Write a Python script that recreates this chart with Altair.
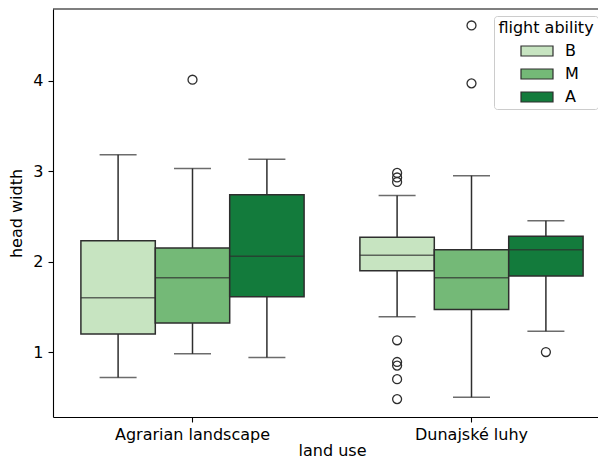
import altair as alt
import pandas as pd

# Box summary values
land = ["Agrarian landscape"] * 3 + ["Dunajské luhy"] * 3
ability = ["B", "M", "A"] * 2
whislo = [0.72, 0.98, 0.94, 1.39, 0.50, 1.23]
q1 = [1.20, 1.32, 1.61, 1.90, 1.47, 1.84]
med = [1.60, 1.82, 2.06, 2.07, 1.82, 2.13]
q3 = [2.23, 2.15, 2.74, 2.27, 2.13, 2.28]
whishi = [3.18, 3.03, 3.13, 2.73, 2.95, 2.45]

# Outliers
out_land = ["Agrarian landscape"] + ["Dunajské luhy"] * 11
out_ability = ["M"] + ["B"] * 8 + ["M", "M", "A"]
out_value = [4.01, 2.98, 2.93, 2.88, 1.13, 0.89, 0.85, 0.70, 0.48, 4.61, 3.97, 1.00]

categories = ["Agrarian landscape", "Dunajské luhy"]
hues = ["B", "M", "A"]
palette = ["#c7e4c1", "#74b977", "#137b3c"]

box = pd.DataFrame({"land use": land, "flight ability": ability, "whislo": whislo,
                    "q1": q1, "med": med, "q3": q3, "whishi": whishi})
outl = pd.DataFrame({"land use": out_land, "flight ability": out_ability, "value": out_value})

LINE = "#2e2e2e"
LW = 1.5
FS = 16

xenc = alt.X("land use:N", sort=categories, title="land use",
             scale=alt.Scale(paddingInner=0, paddingOuter=0),
             axis=alt.Axis(labelAngle=0))
xoff = alt.XOffset("flight ability:N", sort=hues,
                   scale=alt.Scale(paddingInner=0, paddingOuter=0.375))
ydom = alt.Scale(domain=[0.282, 4.792], nice=False, zero=False)
yenc = lambda f: alt.Y(f"{f}:Q", scale=ydom, title="head width",
                       axis=alt.Axis(values=[1, 2, 3, 4], format="d"))

base = alt.Chart(box)

whisk_lo = base.mark_rule(color=LINE, strokeWidth=LW).encode(
    x=xenc, xOffset=xoff, y=yenc("whislo"), y2="q1:Q")
whisk_hi = base.mark_rule(color=LINE, strokeWidth=LW).encode(
    x=xenc, xOffset=xoff, y=yenc("q3"), y2="whishi:Q")
cap_lo = base.mark_tick(color=LINE, thickness=LW, size=37, orient="horizontal").encode(
    x=xenc, xOffset=xoff, y=yenc("whislo"))
cap_hi = base.mark_tick(color=LINE, thickness=LW, size=37, orient="horizontal").encode(
    x=xenc, xOffset=xoff, y=yenc("whishi"))
boxes = base.mark_bar(stroke=LINE, strokeWidth=LW, opacity=1).encode(
    x=xenc, xOffset=xoff, y=yenc("q1"), y2="q3:Q",
    color=alt.Color("flight ability:N", sort=hues,
                    scale=alt.Scale(domain=hues, range=palette),
                    legend=alt.Legend(title="flight ability", orient="none",
                                      legendX=441, legendY=7)))
median = base.mark_tick(color=LINE, thickness=LW, size=74.4, orient="horizontal").encode(
    x=xenc, xOffset=xoff, y=yenc("med"))
points = alt.Chart(outl).mark_point(shape="circle", filled=False, color=LINE,
                                    strokeWidth=1.3, size=80, opacity=1).encode(
    x=xenc, xOffset=xoff, y=yenc("value"))
# top spine of the frame (the right spine lies beyond the picture's edge)
top_spine = alt.Chart(pd.DataFrame({"k": [0]})).mark_rule(
    color="black", strokeWidth=1.1).encode(y=alt.value(0), x=alt.value(0), x2=alt.value(600))

chart = alt.layer(whisk_lo, whisk_hi, cap_lo, cap_hi, boxes, median, points, top_spine).properties(
    width=558, height=408,
    autosize=alt.AutoSizeParams(type="none"),
    padding={"left": 45, "top": 1, "right": -13, "bottom": 41},
).configure_view(stroke=None).configure_axis(
    grid=False, domainColor="black", domainWidth=1.1, tickColor="black",
    tickWidth=1.1, tickSize=5, labelColor="black", labelFontSize=FS,
    labelFont="DejaVu Sans", titleFont="DejaVu Sans", titleFontSize=FS,
    titleFontWeight="normal", titleColor="black", labelPadding=5,
).configure_axisY(titlePadding=8).configure_axisX(titlePadding=0, labelPadding=4).configure_legend(
    titleFont="DejaVu Sans", titleFontSize=FS, titleFontWeight="normal", titleColor="black",
    labelFont="DejaVu Sans", labelFontSize=FS, labelColor="black",
    symbolType="M-3.2,-1H3.2V1H-3.2Z", symbolSize=100, symbolStrokeColor=LINE,
    symbolStrokeWidth=1.2, symbolOpacity=1, symbolOffset=16, labelOffset=20,
    rowPadding=7, titleAnchor="middle", titlePadding=7,
    fillColor="white", strokeColor="#cccccc", cornerRadius=3, padding=4,
)

chart.save("out.html", embed_options={"renderer": "svg", "actions": False})
